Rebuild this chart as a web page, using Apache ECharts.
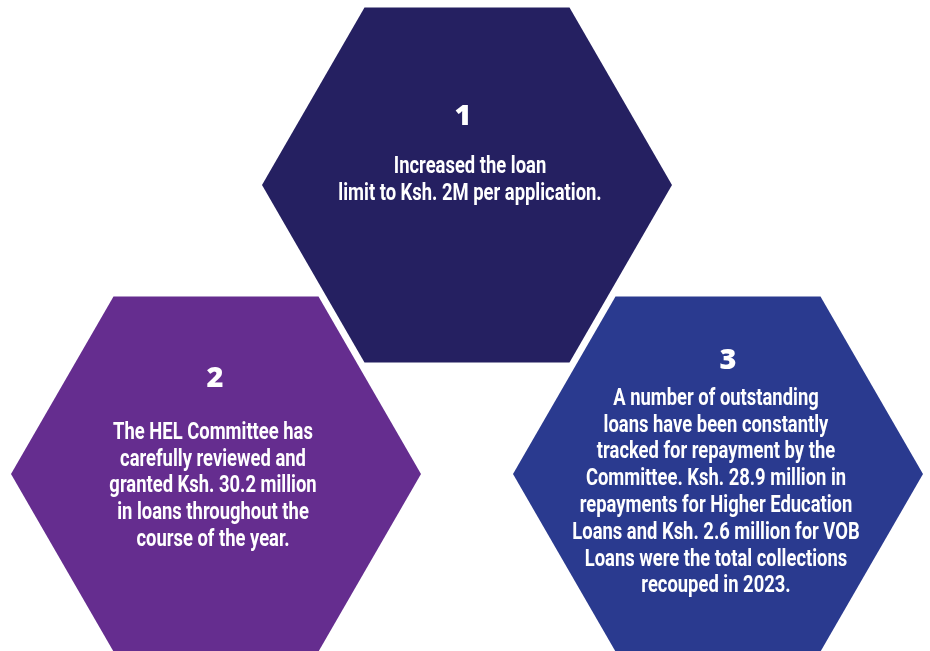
<!DOCTYPE html>
<html>
<head>
<meta charset="utf-8">
<script src="https://cdn.jsdelivr.net/npm/echarts@6/dist/echarts.min.js"></script>
<style>
html,body{margin:0;padding:0;background:#ffffff;}
#chart{width:930px;height:651px;}
</style>
</head>
<body>
<div id="chart"></div>
<script>
// ---- content (data) ----
const hexNumbers = ['1', '2', '3'];
const hexCols = [1, 0, 2];   // honeycomb column of each hexagon
const hexRows = [0, 1, 1];   // honeycomb row of each hexagon
const hexTexts = [
  ['Increased the loan', 'limit to Ksh. 2M per application.'],
  ['The HEL Committee has', 'carefully reviewed and', 'granted Ksh. 30.2 million', 'in loans throughout the', 'course of the year.'],
  ['A number of outstanding', 'loans have been constantly', 'tracked for repayment by the', 'Committee. Ksh. 28.9 million in', 'repayments for Higher Education', 'Loans and Ksh. 2.6 million for VOB', 'Loans were the total collections', 'recouped in 2023.']
];

// ---- styling / layout ----
const STYLE = {
  colors: ['#252061', '#652d8f', '#2a3a8f'],
  numOffset: [[-4, -68], [-1, -95], [10, -113]],
  textOffset: [[3, -18], [-3, -41], [-2, -75]],
  lineHeight: 26.8,
  textScaleX: 0.80,
  textFont: 'Roboto, "DejaVu Sans Condensed", sans-serif',
  numFont: '"Open Sans", Lato, sans-serif'
};

const chart = echarts.init(document.getElementById('chart'), null, {renderer: 'canvas'});

const seriesData = hexNumbers.map((n, i) => [hexCols[i], hexRows[i], i]);

function renderItem(params, api) {
  const i = api.value(2);
  const c = api.coord([api.value(0), api.value(1)]);
  const colW = api.size([1, 0])[0];
  const R = colW * 0.8167;
  const pts = [];
  for (let k = 0; k < 6; k++) {
    const a = Math.PI / 3 * k;
    pts.push([c[0] + R * Math.cos(a), c[1] + R * Math.sin(a)]);
  }
  const children = [{
    type: 'polygon',
    shape: {points: pts},
    style: {fill: STYLE.colors[i]}
  }, {
    type: 'text',
    style: {
      text: hexNumbers[i],
      x: c[0] + STYLE.numOffset[i][0],
      y: c[1] + STYLE.numOffset[i][1],
      fill: '#ffffff',
      fontSize: 29,
      fontWeight: 800,
      fontFamily: STYLE.numFont,
      align: 'center',
      verticalAlign: 'middle'
    }
  }];
  hexTexts[i].forEach((line, j) => {
    children.push({
      type: 'text',
      x: c[0] + STYLE.textOffset[i][0],
      y: c[1] + STYLE.textOffset[i][1] + j * STYLE.lineHeight,
      scaleX: STYLE.textScaleX,
      style: {
        text: line,
        x: 0,
        y: 0,
        fill: '#ffffff',
        fontSize: 23,
        fontWeight: 'bold',
        fontFamily: STYLE.textFont,
        align: 'center',
        verticalAlign: 'middle'
      }
    });
  });
  return {type: 'group', children: children};
}

chart.setOption({
  animation: false,
  grid: {left: 0, right: 0, top: 0, bottom: 0},
  xAxis: {type: 'value', min: -0.86056, max: 2.84462, show: false},
  yAxis: {type: 'value', min: -0.64014, max: 1.61246, inverse: true, show: false},
  series: [{
    type: 'custom',
    clip: false,
    renderItem: renderItem,
    data: seriesData
  }]
});
</script>
</body>
</html>
